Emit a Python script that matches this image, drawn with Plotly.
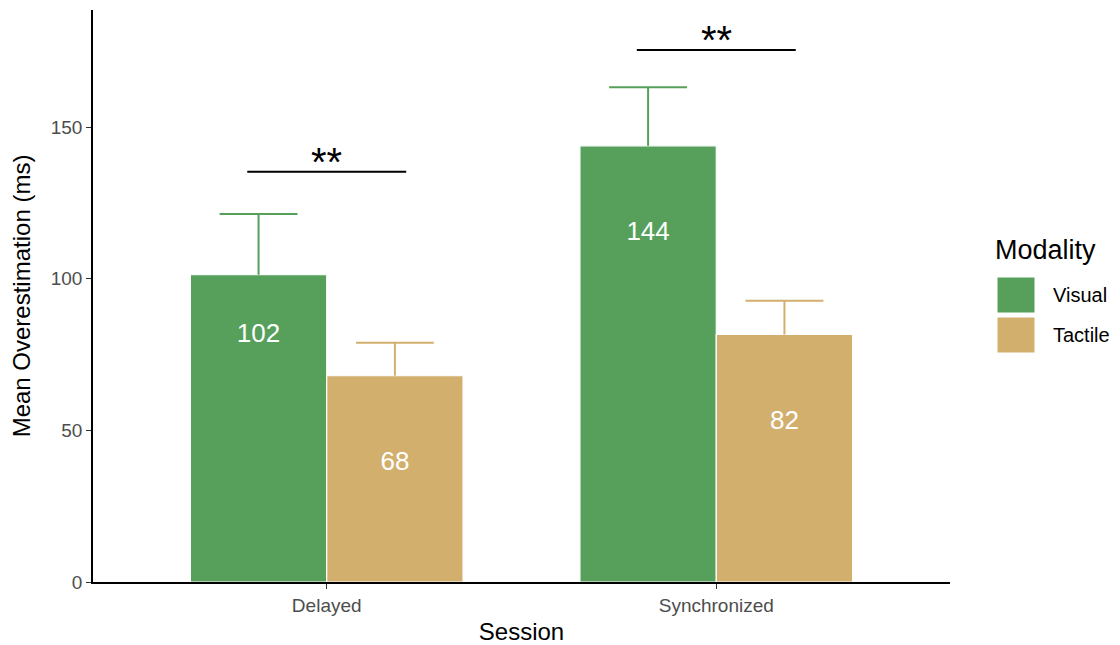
import plotly.graph_objects as go

# ---- data ----
sessions = ["Delayed", "Synchronized"]
modalities = ["Visual", "Tactile"]
visual_mean = [101.3, 143.8]
tactile_mean = [68.0, 81.6]
visual_se = [20.0, 19.3]
tactile_se = [10.9, 11.1]
visual_labels = ["102", "144"]
tactile_labels = ["68", "82"]
sig_y = [135.3, 175.4]
sig_text = ["**", "**"]

# ---- style ----
colors = {"Visual": "#56A05B", "Tactile": "#D3AF6E"}
label_drop = {"Visual": [20, 29], "Tactile": [29, 29]}
offsets = {"Visual": -0.175, "Tactile": 0.175}
cap_half = 0.1
FONT = "Liberation Sans, Arial, Helvetica, sans-serif"

# page-to-figure shift (browser body margin)
SH = 8
L, T, B, R = 93 - SH, 10 - SH, 645 - (582 - SH), 1120 - (950 - SH)

fig = go.Figure()
means = {"Visual": visual_mean, "Tactile": tactile_mean}
ses = {"Visual": visual_se, "Tactile": tactile_se}
labels = {"Visual": visual_labels, "Tactile": tactile_labels}

for m in modalities:
    fig.add_trace(go.Bar(
        x=sessions, y=means[m], name=m, offsetgroup=m,
        marker=dict(color=colors[m], line=dict(color="white", width=1.2)),
        showlegend=False, hoverinfo="skip",
    ))

# upper error whiskers
for m in modalities:
    xs, ys = [], []
    for i, (v, s) in enumerate(zip(means[m], ses[m])):
        xc = i + offsets[m]
        xs += [xc, xc, None, xc - cap_half, xc + cap_half, None]
        ys += [v, v + s, None, v + s, v + s, None]
    fig.add_trace(go.Scatter(x=xs, y=ys, mode="lines", xaxis="x2",
                             line=dict(color=colors[m], width=2),
                             showlegend=False, hoverinfo="skip"))

# value labels inside bars
for m in modalities:
    fig.add_trace(go.Scatter(
        x=[i + offsets[m] for i in range(len(sessions))],
        y=[v - d for v, d in zip(means[m], label_drop[m])],
        text=labels[m], mode="text", xaxis="x2",
        textfont=dict(color="white", size=26, family=FONT),
        showlegend=False, hoverinfo="skip",
    ))

# significance bars
for i, (yv, t) in enumerate(zip(sig_y, sig_text)):
    fig.add_shape(type="line", xref="x2", yref="y", x0=i - 0.204, x1=i + 0.204,
                  y0=yv, y1=yv, line=dict(color="black", width=2))
    fig.add_annotation(xref="x2", yref="y", x=i, y=yv, text=t, showarrow=False,
                       yanchor="middle", yshift=10,
                       font=dict(size=40, color="black", family=FONT))

# custom legend (positions in page px -> paper)
def px(xp):
    return (xp - 93) / 857
def py(yp):
    return (582 - yp) / 572

fig.add_annotation(xref="paper", yref="paper", x=px(993), y=py(250),
                   text="Modality", showarrow=False, xanchor="left", yanchor="middle",
                   font=dict(size=27, color="black", family=FONT))
key_tops = [277, 317]
for m, top in zip(modalities, key_tops):
    fig.add_shape(type="rect", xref="paper", yref="paper",
                  x0=px(997), x1=px(1035), y0=py(top + 36), y1=py(top),
                  fillcolor=colors[m], line=dict(color="white", width=1))
    fig.add_annotation(xref="paper", yref="paper", x=px(1051),
                       y=py(top + 18), text=m, showarrow=False,
                       xanchor="left", yanchor="middle",
                       font=dict(size=20, color="black", family=FONT))

fig.update_layout(
    width=1120, height=645,
    margin=dict(l=L, r=R, t=T, b=B),
    paper_bgcolor="white", plot_bgcolor="white",
    barmode="group", bargap=0.3, bargroupgap=0.0,
    font=dict(family=FONT),
    xaxis=dict(type="category", range=[-0.6, 1.6], showline=True, linecolor="black",
               linewidth=1.5, ticks="outside", ticklen=5, tickcolor="#333333",
               tickfont=dict(size=19, color="#4D4D4D"),
               title=dict(text="Session", font=dict(size=24, color="black"), standoff=9),
               showgrid=False, zeroline=False),
    xaxis2=dict(overlaying="x", range=[-0.6, 1.6], visible=False),
    yaxis=dict(range=[0, 188.6], showline=True, linecolor="black", linewidth=1.5,
               ticks="outside", ticklen=5, tickcolor="#333333",
               tickvals=[0, 50, 100, 150],
               tickfont=dict(size=19, color="#4D4D4D"),
               title=dict(text="Mean Overestimation (ms)", font=dict(size=24, color="black"),
                          standoff=15),
               showgrid=False, zeroline=False),
)

fig.write_html("out.html")
